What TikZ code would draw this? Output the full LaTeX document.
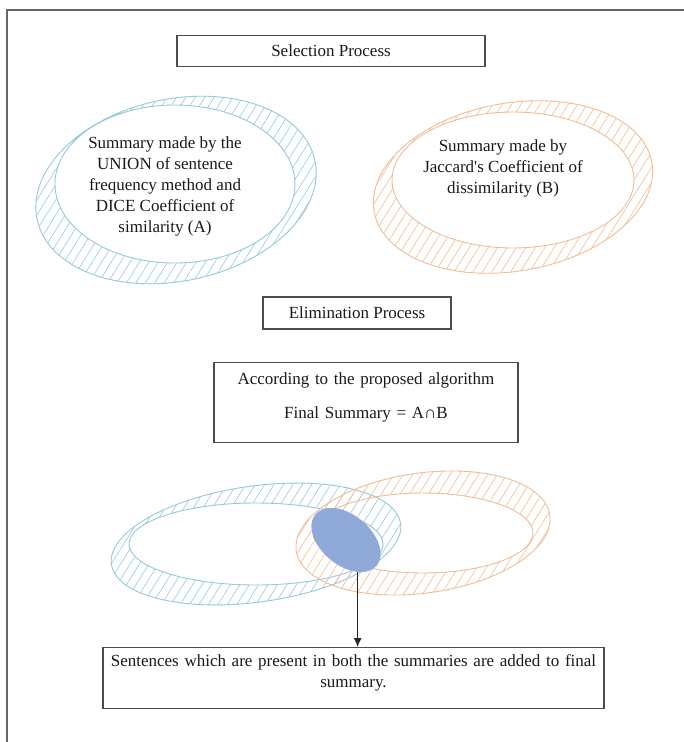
\documentclass[tikz,border=0pt]{standalone}
\usepackage{fontspec}
\setmainfont{Liberation Serif}
\usepackage{tikz}
\usetikzlibrary{shapes.geometric}
\usetikzlibrary{patterns.meta}
\usetikzlibrary{arrows.meta}
\usepackage{xcolor}
\definecolor{ringblue}{RGB}{150,200,215}
\definecolor{ringorange}{RGB}{240,188,150}
\definecolor{commonblue}{RGB}{143,170,216}

\begin{document}
\begin{tikzpicture}[x=1pt, y=-1pt,
	every node/.style = {font=\fontsize{17}{21}\selectfont, text=black!90},
	box/.style = {draw=black!70, line width=1.2pt, inner sep=6pt},
	ringA/.style = {draw=ringblue, line width=0.9pt, even odd rule,
		pattern={Lines[angle=58, distance=8pt, line width=0.6pt]}, pattern color=ringblue},
	ringB/.style = {draw=ringorange, line width=0.9pt, even odd rule,
		pattern={Lines[angle=58, distance=8pt, line width=0.6pt]}, pattern color=ringorange}]
	
	\useasboundingbox (0,0) rectangle (684,742);
	\draw[line width=2pt, draw=black!60] (7,742) |- (684,10);
	
	\path[ringA] {[rotate around={12:(176,190)}] (176,190) ellipse (142 and 91)} (175,184) ellipse (120 and 79);
	\path[ringB] {[rotate around={10:(513,187)}] (513,187) ellipse (141 and 84)} (513,180) ellipse (121 and 68);
	
	\node (sel) [box, minimum width=308, minimum height=31] at (331,51) {Selection Process};
	\node (sumA) [align=center] at (165,186) {Summary made by the\\UNION of sentence\\frequency method and\\DICE Coefficient of\\similarity (A)};
	\node (sumB) [align=center] at (503,168) {Summary made by\\Jaccard\textquotesingle s Coefficient of\\dissimilarity (B)};
	
	\node (elim) [box, minimum width=188, minimum height=32] at (357,313) {Elimination Process};
	\node (algo) [box, anchor=north, text width=284, inner xsep=10pt, text height=16pt, text depth=52pt, align=center] at (366,362) {According to the proposed algorithm\\[13pt]Final Summary = A∩B};
	
	\path[ringA] {[rotate around={8:(256,544)}] (256,544) ellipse (146 and 58)} (256,544) ellipse (127 and 41);
	\path[ringB] {[rotate around={8:(423,533)}] (423,533) ellipse (128 and 60)} (423,533) ellipse (110 and 40);
	\node (common) [ellipse, fill=commonblue, minimum width=80, minimum height=50, inner sep=0pt, rotate=-40] at (346,540) {};
	
	\node (final) [box, anchor=north, text width=489, inner xsep=6pt, text height=13pt, text depth=36pt, align=center] at (353.5,647) {Sentences which are present in both the summaries are added to final\\summary.};
	\draw[-{Latex[length=9pt, width=8pt]}, line width=1.1pt, black!85] (common.-30) -- (common.-30 |- final.north);
\end{tikzpicture}
\end{document}
